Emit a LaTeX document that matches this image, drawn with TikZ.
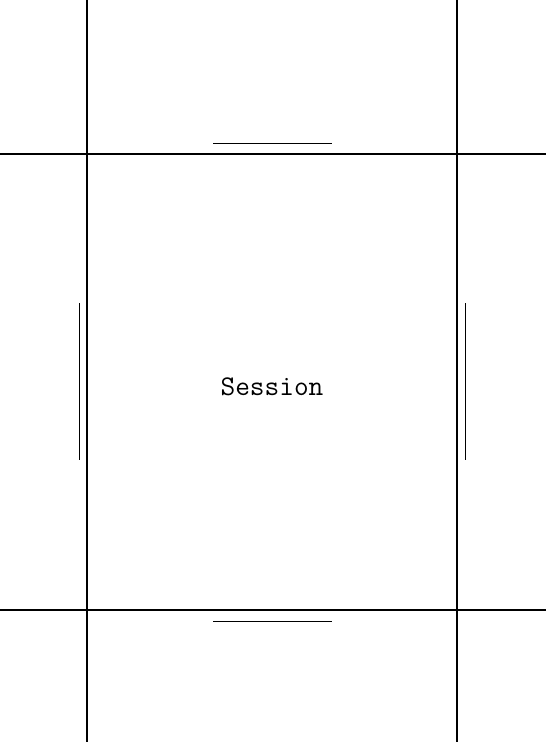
\documentclass[tikz,border=0pt]{standalone}
\usepackage{fontspec}
\usepackage{tikz}

\begin{document}
\begin{tikzpicture}[x=1pt, y=-1pt,
        frameline/.style={line width=1.7pt},
        sideline/.style={line width=1pt}]
        \useasboundingbox (0,0) rectangle (546,742);
        \coordinate (TopL) at (0,154);
        \coordinate (TopR) at (546,154);
        \coordinate (BotL) at (0,610);
        \coordinate (BotR) at (546,610);
        \coordinate (LeftT) at (87,0);
        \coordinate (LeftB) at (87,742);
        \coordinate (RightT) at (457,0);
        \coordinate (RightB) at (457,742);
        \node[font=\ttfamily\fontsize{28.5}{30}\selectfont] (Session) at (272,387) {Session};
        % frame
        \draw[frameline] (TopL) -- (TopR);
        \draw[frameline] (BotL) -- (BotR);
        \draw[frameline] (LeftT) -- (LeftB);
        \draw[frameline] (RightT) -- (RightB);
        % short marks
        \coordinate (NorthA) at (213,143);
        \coordinate (NorthB) at (332,143);
        \coordinate (SouthA) at (213,621);
        \coordinate (SouthB) at (332,621);
        \coordinate (WestA) at (79,303);
        \coordinate (WestB) at (79,460);
        \coordinate (EastA) at (465,303);
        \coordinate (EastB) at (465,460);
        \draw[sideline] (NorthA) -- (NorthB);
        \draw[sideline] (SouthA) -- (SouthB);
        \draw[sideline] (WestA) -- (WestB);
        \draw[sideline] (EastA) -- (EastB);
    \end{tikzpicture}
\end{document}
